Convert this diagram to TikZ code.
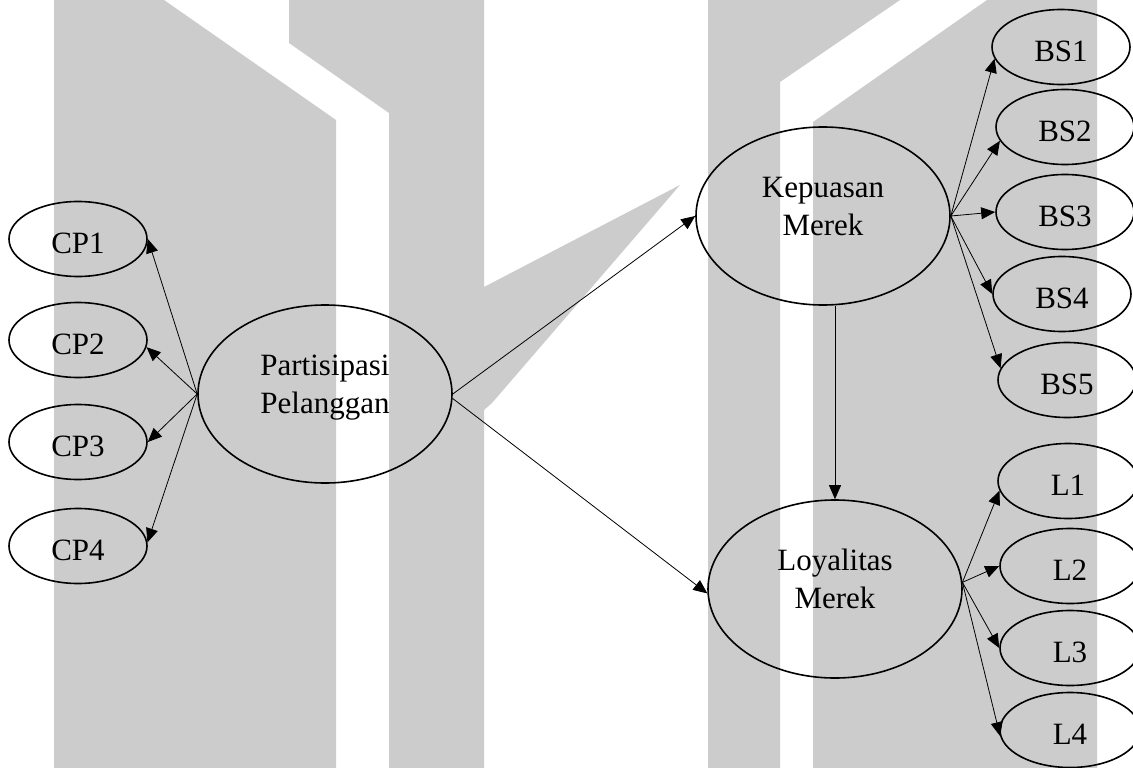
\documentclass[tikz,border=0pt]{standalone}
\usepackage{fontspec}
\setmainfont{Liberation Serif}
\usetikzlibrary{arrows.meta,shapes.geometric}
\definecolor{wm}{RGB}{204,204,204}
\begin{document}
\begin{tikzpicture}[x=1pt,y=-1pt,
  ind/.style={draw, ellipse, line width=1.6pt, minimum width=138pt, minimum height=75pt,
    inner sep=0pt, font=\fontsize{31}{38}\selectfont, text height=29pt, text depth=0pt},
  lat/.style={draw, ellipse, line width=1.6pt, minimum width=254pt, minimum height=178pt,
    inner sep=0pt, font=\fontsize{31}{38}\selectfont, text height=48pt, text depth=10pt},
  arr/.style={line width=0.8pt, -{Triangle[length=14pt,width=12pt]}}]
% canvas
\fill[white] (0,0) rectangle (1133,768);
\useasboundingbox (0,0) rectangle (1133,768);
% watermark
\fill[wm] (54,0) -- (164,0) -- (336,120) -- (336,768) -- (54,768) -- cycle;
\fill[wm] (289,0) -- (484,0) -- (484,287) -- (680,185) -- (492,403) -- (484,410)
  -- (484,768) -- (389,768) -- (389,113) -- (289,43) -- cycle;
\fill[wm] (708,0) -- (900,0) -- (780,82) -- (780,768) -- (708,768) -- cycle;
\fill[wm] (813,122) -- (987,0) -- (1097,0) -- (1097,768) -- (813,768) -- cycle;
% indicators CP
\node[ind] (CP1) at (78,239) {CP1};
\node[ind] (CP2) at (78,340) {CP2};
\node[ind] (CP3) at (78,442) {CP3};
\node[ind] (CP4) at (78,546) {CP4};
% latent
\node[lat] (PP) at (325,394) {\begin{tabular}[b]{@{}c@{}}Partisipasi\\Pelanggan\end{tabular}};
\node[lat] (KM) at (823,216) {\begin{tabular}[b]{@{}c@{}}Kepuasan\\Merek\end{tabular}};
\node[lat] (LM) at (835,589) {\begin{tabular}[b]{@{}c@{}}Loyalitas\\Merek\end{tabular}};
% indicators BS
\node[ind] (BS1) at (1061,47) {BS1};
\node[ind] (BS2) at (1065,127) {BS2};
\node[ind] (BS3) at (1065,212) {BS3};
\node[ind] (BS4) at (1062,294) {BS4};
\node[ind] (BS5) at (1067,380) {BS5};
% indicators L
\node[ind, minimum width=140pt] (L1) at (1068,481) {L1};
\node[ind, minimum width=140pt] (L2) at (1070,566) {L2};
\node[ind, minimum width=140pt] (L3) at (1070,648) {L3};
\node[ind, minimum width=140pt] (L4) at (1070,730) {L4};
% connectors
\draw[arr] (PP.west) -- (CP1.east);
\draw[arr] (PP.west) -- (CP2.-6);
\draw[arr] (PP.west) -- (CP3.east);
\draw[arr] (PP.west) -- (CP4.3);
\draw[arr] (PP.east) -- (KM.west);
\draw[arr] (PP.-2) -- (LM.182);
\coordinate (KMb) at (KM.south -| LM.north);
\draw[arr] (KMb) -- (LM.north);
\draw[arr] (KM.east) -- (BS1.190);
\draw[arr] (KM.east) -- (BS2.192);
\draw[arr] (KM.east) -- (BS3.west);
\draw[arr] (KM.east) -- (BS4.west);
\draw[arr] (KM.east) -- (BS5.170);
\draw[arr] (LM.3) -- (L1.188);
\draw[arr] (LM.3) -- (L2.west);
\draw[arr] (LM.3) -- (L3.west);
\draw[arr] (LM.3) -- (L4.185);
\end{tikzpicture}
\end{document}
